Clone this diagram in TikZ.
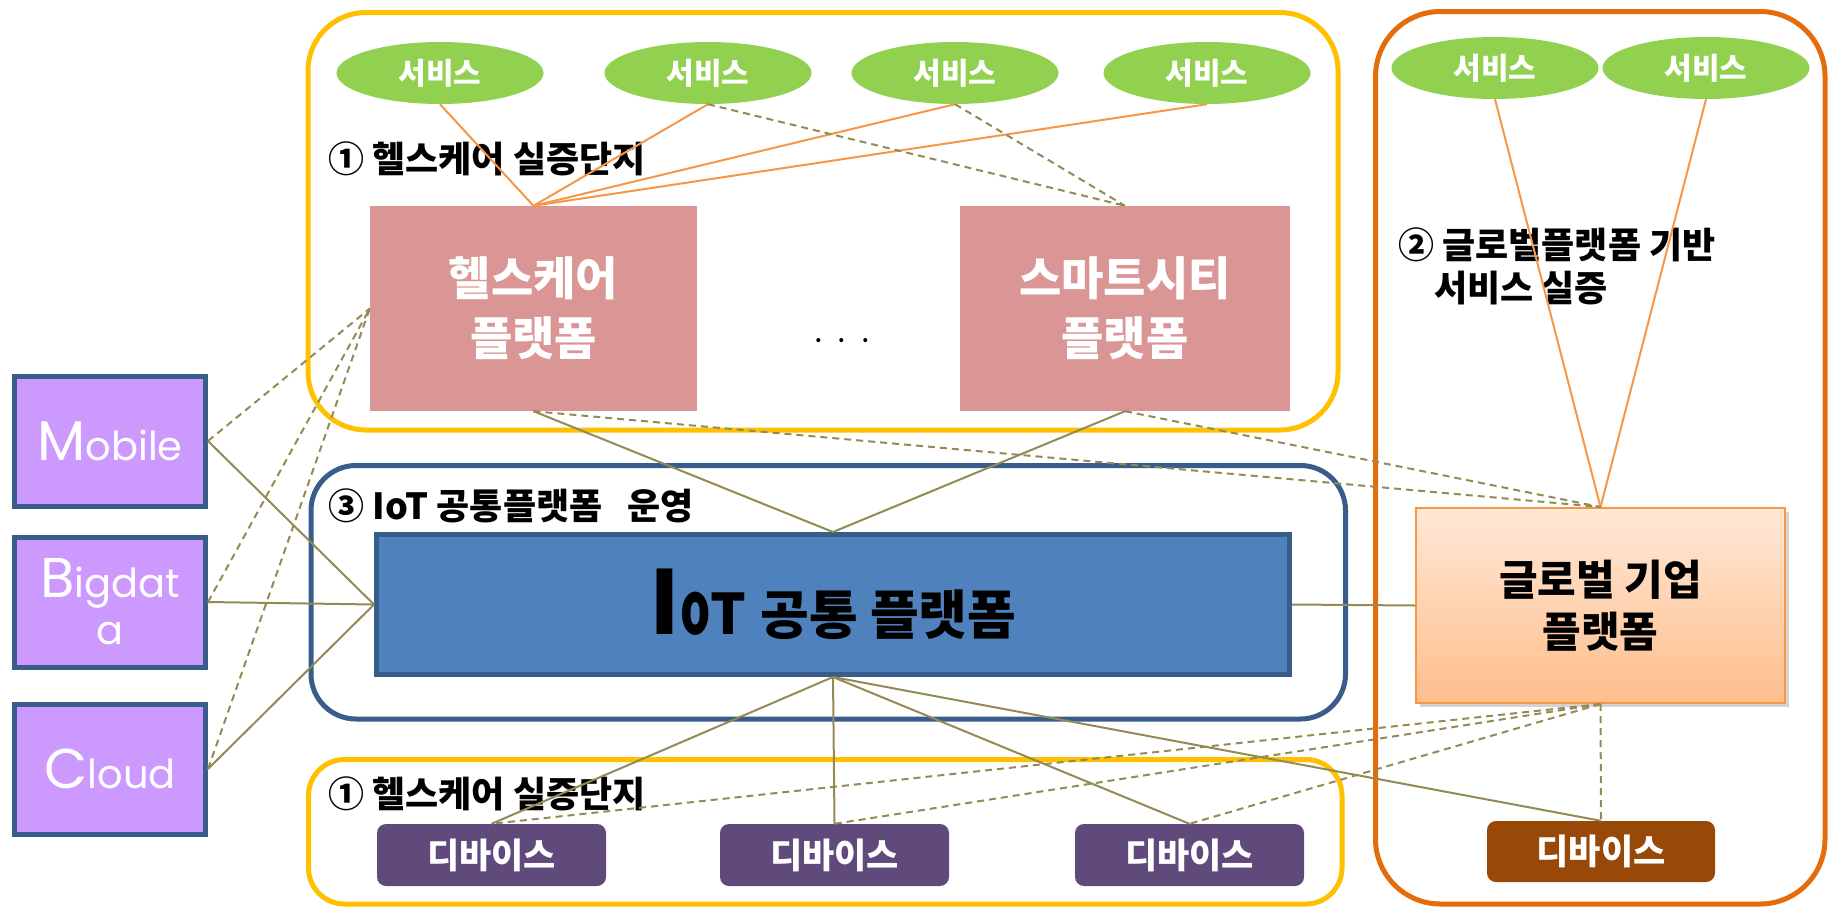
\documentclass[tikz,border=0pt]{standalone}
\usepackage{fontspec}
\setmainfont{Noto Sans CJK KR}
\newfontfamily\geo{Poppins}
\usepackage{tikz}
\usetikzlibrary{positioning}
\usetikzlibrary{shapes.geometric}
\usetikzlibrary{shadows}
\definecolor{srcfill}{HTML}{CC99FF}
\definecolor{navy}{HTML}{385D8A}
\definecolor{iotblue}{HTML}{4F81BD}
\definecolor{platpink}{HTML}{D99694}
\definecolor{servgreen}{HTML}{92D050}
\definecolor{devpurple}{HTML}{604A7B}
\definecolor{devbrown}{HTML}{984807}
\definecolor{linkolive}{HTML}{948A54}
\definecolor{linkorange}{HTML}{F79646}
\definecolor{grpyellow}{HTML}{FFC000}
\definecolor{grporange}{HTML}{E46C0A}
\definecolor{globtop}{HTML}{FFE8D6}
\definecolor{globbot}{HTML}{FFBE8C}

\begin{document}
\begin{tikzpicture}[x=1pt,y=-1pt,
  serv/.style={ellipse,fill=servgreen,minimum width=207pt,minimum height=62pt,inner sep=0pt,text=white,font=\bfseries\fontsize{30}{30}\selectfont},
  dev/.style={rounded corners=9pt,fill=devpurple,minimum width=229pt,minimum height=62pt,inner sep=0pt,text=white,font=\bfseries\fontsize{35}{35}\selectfont},
  plat/.style={fill=platpink,minimum width=327pt,minimum height=205pt,inner sep=0pt,align=center,text=white,font=\bfseries\fontsize{46}{60}\selectfont},
  src/.style={draw=navy,line width=5pt,fill=srcfill,minimum width=191pt,minimum height=130pt,inner sep=0pt,text=white,font=\geo\fontsize{40}{47}\selectfont},
  lbl/.style={anchor=west,inner sep=0pt,font=\bfseries\fontsize{36}{43}\selectfont},
  grp/.style={line width=5pt},
  gline/.style={linkolive,line width=2pt},
  dline/.style={linkolive,line width=2pt,dash pattern=on 7pt off 5pt},
  oline/.style={linkorange,line width=2pt}]
  \useasboundingbox (0,0) rectangle (1835,908);

  \draw[grp,grpyellow,rounded corners=58pt](308,12.5) rectangle (1338,430);
  \draw[grp,navy,rounded corners=45pt](311,465.5) rectangle (1345.5,719);
  \draw[grp,grpyellow,rounded corners=36pt](308.5,759.5) rectangle (1342,904);
  \draw[grp,grporange,rounded corners=65pt](1375.5,11.5) rectangle (1825,904);

  \node[lbl] (l1) at (328,159) {① 헬스케어 실증단지};
  \node[lbl,align=left] (l2) at (1398,266) {② 글로벌플랫폼 기반\\\hspace*{1em}서비스 실증};
  \node[lbl] (l3) at (328,506) {③ IoT 공통플랫폼\hspace{0.7em}운영};
  \node[lbl] (l4) at (328,794) {① 헬스케어 실증단지};

  \node[serv] (s1) at (440,73) {서비스};
  \node[serv] (s2) at (708,73) {서비스};
  \node[serv] (s3) at (955,73) {서비스};
  \node[serv] (s4) at (1207,73) {서비스};
  \node[serv] (r1) at (1495,68) {서비스};
  \node[serv] (r2) at (1706,68) {서비스};

  \node[plat] (hc) at (533.5,308.5) {헬스케어\\플랫폼};
  \node[plat,minimum width=330pt] (sc) at (1125,308.5) {스마트시티\\플랫폼};
  \node[inner sep=0pt,font=\fontsize{30}{30}\selectfont] (dots) at (842,345) {· · ·};

  \node[src] (mob) at (110,441) {{\fontsize{56}{56}\selectfont M}obile};
  \node[src,below=26pt of mob,align=center] (big) {{\fontsize{56}{56}\selectfont B}igdat\\a};
  \node[src,below=32pt of big] (cld) {{\fontsize{56}{56}\selectfont C}loud};

  \node[draw=navy,line width=5pt,fill=iotblue,minimum width=913pt,minimum height=140pt,inner sep=0pt,font=\bfseries] (iot) at (833,604.5)
    {{\fontsize{88}{88}\selectfont I}{\fontsize{56}{56}\selectfont\scalebox{0.85}[1.3]{o}T}\hspace{14pt}{\fontsize{53}{53}\selectfont 공통 플랫폼}};
  \node[draw=linkorange,line width=2pt,top color=globtop,bottom color=globbot,minimum width=369pt,minimum height=195pt,inner sep=0pt,
    drop shadow={opacity=0.35,shadow xshift=4pt,shadow yshift=-4pt},align=center,font=\bfseries\fontsize{42}{52}\selectfont] (gl) at (1600.5,605.5) {글로벌 기업\\플랫폼};

  \node[dev] (d1) at (491.5,855) {디바이스};
  \node[dev] (d2) at (834.5,855) {디바이스};
  \node[dev] (d3) at (1189.5,855) {디바이스};
  \node[dev,fill=devbrown,minimum width=228pt,minimum height=61pt] (d4) at (1601,851.5) {디바이스};

  \draw[oline](s1.south)--(hc.north);
  \draw[oline](s2.south)--(hc.north);
  \draw[oline](s3.south)--(hc.north);
  \draw[oline](s4.south)--(hc.north);
  \draw[dline](s2.south)--(sc.north);
  \draw[dline](s3.south)--(sc.north);
  \draw[oline](r1.south)--(gl.north);
  \draw[oline](r2.south)--(gl.north);

  \draw[gline](hc.south)--(iot.north)--(sc.south);
  \draw[dline](hc.south)--(gl.north);
  \draw[dline](sc.south)--(gl.north);

  \draw[gline](mob.east)--(iot.west);
  \draw[gline](big.east)--(iot.west);
  \draw[gline](cld.east)--(iot.west);
  \draw[dline](mob.east)--(hc.west);
  \draw[dline](big.east)--(hc.west);
  \draw[dline](cld.east)--(hc.west);
  \draw[gline](iot.east)--(gl.west);

  \draw[gline](iot.south)--(d1.north);
  \draw[gline](iot.south)--(d2.north);
  \draw[gline](iot.south)--(d3.north);
  \draw[gline](iot.south)--(d4.north);
  \draw[dline](gl.south)--(d1.north);
  \draw[dline](gl.south)--(d2.north);
  \draw[dline](gl.south)--(d3.north);
  \draw[dline](gl.south)--(d4.north);
\end{tikzpicture}
\end{document}
